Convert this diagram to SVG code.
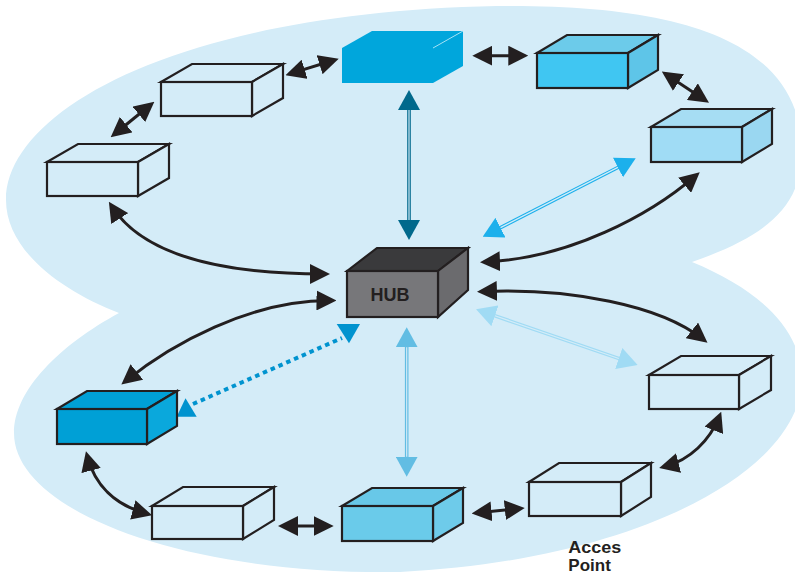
<svg xmlns="http://www.w3.org/2000/svg" width="795" height="575" viewBox="0 0 795 575">
  <style>
    .wf { fill: #d4ecf8; stroke: #231f20; stroke-width: 2.2; stroke-linejoin: miter; }
    .blk { fill: none; stroke: #231f20; stroke-width: 3; }
    .gap { fill: none; stroke: #d4ecf8; stroke-width: 1.2; }
    .lbl { font-family: "Liberation Sans", Arial, sans-serif; font-weight: bold; fill: #231f20; }
  </style>
  <defs>
    <marker id="ah-black" viewBox="0 0 10 10" refX="7" refY="5" markerWidth="20" markerHeight="20" markerUnits="userSpaceOnUse" orient="auto-start-reverse">
      <path d="M0,0 L10,5 L0,10 z" fill="#231f20"/>
    </marker>
    <marker id="ah-teal" viewBox="0 0 10 11" refX="6" refY="5.5" markerWidth="20" markerHeight="22" markerUnits="userSpaceOnUse" orient="auto-start-reverse">
      <path d="M0,0 L10,5.5 L0,11 z" fill="#00698c"/>
    </marker>
    <marker id="ah-blue" viewBox="0 0 10 11" refX="6" refY="5.5" markerWidth="20" markerHeight="22" markerUnits="userSpaceOnUse" orient="auto-start-reverse">
      <path d="M0,0 L10,5.5 L0,11 z" fill="#1cb0ec"/>
    </marker>
    <marker id="ah-pale" viewBox="0 0 10 11" refX="6" refY="5.5" markerWidth="20" markerHeight="22" markerUnits="userSpaceOnUse" orient="auto-start-reverse">
      <path d="M0,0 L10,5.5 L0,11 z" fill="#a0dbf4"/>
    </marker>
    <marker id="ah-mid" viewBox="0 0 10 11" refX="6" refY="5.5" markerWidth="20" markerHeight="22" markerUnits="userSpaceOnUse" orient="auto-start-reverse">
      <path d="M0,0 L10,5.5 L0,11 z" fill="#62bde3"/>
    </marker>
  </defs>

  <rect width="795" height="575" fill="#ffffff"/>

  <!-- network coverage area: two lobes joined at a waist -->
  <path id="area" fill="#d4ecf8" d="M119,313 C60,290 6,250 6,200 C6,110 180,12 497,6 C680,4 800,40 802,150 C802,205 770,235 692,262 C760,290 802,330 802,380 C800,470 640,560 400,572 C180,575 14,510 14,433 C14,390 60,345 119,313 Z"/>

  <!-- connectors -->
  <g id="connectors">
    <!-- ring links -->
    <path class="blk" d="M115.3,133.5 L149.7,105.5" marker-start="url(#ah-black)" marker-end="url(#ah-black)"/>
    <path class="blk" d="M291.2,73.4 L333,60.5" marker-start="url(#ah-black)" marker-end="url(#ah-black)"/>
    <path class="blk" d="M478.3,55.7 L522.3,55.7" marker-start="url(#ah-black)" marker-end="url(#ah-black)"/>
    <path class="blk" d="M666.8,74.8 L704,99.4" marker-start="url(#ah-black)" marker-end="url(#ah-black)"/>
    <path class="blk" d="M284,526 L327.7,526" marker-start="url(#ah-black)" marker-end="url(#ah-black)"/>
    <path class="blk" d="M477.6,512.8 L518.8,508.6" marker-start="url(#ah-black)" marker-end="url(#ah-black)"/>
    <path class="blk" d="M87.5,457 C95,485 115,505 146.3,513.6" marker-start="url(#ah-black)" marker-end="url(#ah-black)"/>
    <path class="blk" d="M665,466.5 C690,460 710,440 719,417.3" marker-start="url(#ah-black)" marker-end="url(#ah-black)"/>

    <!-- hub spokes (curved) -->
    <path class="blk" d="M112.1,206.8 C145,258 230,274 324,274" marker-start="url(#ah-black)" marker-end="url(#ah-black)"/>
    <path class="blk" d="M486,262 C570,258 650,215 695.2,176.1" marker-start="url(#ah-black)" marker-end="url(#ah-black)"/>
    <path class="blk" d="M330.5,300.5 C250,300 170,345 126,380.8" marker-start="url(#ah-black)" marker-end="url(#ah-black)"/>
    <path class="blk" d="M483,291.5 C570,288 660,305 702.8,339.1" marker-start="url(#ah-black)" marker-end="url(#ah-black)"/>

    <!-- hub spokes (double lines) -->
    <path d="M409,98 L409,232" stroke="#00698c" stroke-width="3.6" fill="none" marker-start="url(#ah-teal)" marker-end="url(#ah-teal)"/>
    <path class="gap" d="M409,110 L409,220"/>

    <path d="M489.8,233.1 L628.6,162" stroke="#1cb0ec" stroke-width="3.6" fill="none" marker-start="url(#ah-blue)" marker-end="url(#ah-blue)"/>
    <path class="gap" d="M500.5,227.6 L617.9,167.4"/>

    <path d="M483.6,311.9 L630.1,362.4" stroke="#a0dbf4" stroke-width="3.6" fill="none" marker-start="url(#ah-pale)" marker-end="url(#ah-pale)"/>
    <path class="gap" d="M494.9,315.8 L618.8,358.5"/>

    <path d="M406.7,335.3 L406.7,468.7" stroke="#62bde3" stroke-width="3.6" fill="none" marker-start="url(#ah-mid)" marker-end="url(#ah-mid)"/>
    <path class="gap" d="M406.7,347.3 L406.7,456.7"/>

    <!-- dotted spoke -->
    <path d="M193,404 L342,338" stroke="#0093cf" stroke-width="4" stroke-dasharray="4.5 4" fill="none"/>
    <polygon points="336.7,324 360,324 349,343.3" fill="#0093cf"/>
    <polygon points="176.7,416.7 196.7,416.7 185.5,398.3" fill="#0093cf"/>
  </g>

  <!-- nodes -->
  <g id="node-ring-nw" transform="translate(161,82)">
    <polygon class="wf" points="0,0 31,-18 122,-18 91,0"/>
    <polygon class="wf" points="91,0 122,-18 122,16 91,34"/>
    <rect class="wf" x="0" y="0" width="91" height="34"/>
  </g>
  <g id="node-ring-w" transform="translate(47,162)">
    <polygon class="wf" points="0,0 31,-18 122,-18 91,0"/>
    <polygon class="wf" points="91,0 122,-18 122,16 91,34"/>
    <rect class="wf" x="0" y="0" width="91" height="34"/>
  </g>
  <g id="node-ring-n" transform="translate(342,48)">
    <polygon fill="#00a6dc" points="0,0 30,-17 121,-17 121,18 91,35 0,35"/>
    <line x1="91" y1="0" x2="121" y2="-17" stroke="#a6e2f6" stroke-width="1"/>
  </g>
  <g id="node-ring-ne" transform="translate(537,53)">
    <polygon fill="#6ccbea" stroke="#231f20" stroke-width="2.2" points="0,0 30,-18 121,-18 91,0"/>
    <polygon fill="#5ec5e8" stroke="#231f20" stroke-width="2.2" points="91,0 121,-18 121,17 91,35"/>
    <rect fill="#40c6f2" stroke="#231f20" stroke-width="2.2" x="0" y="0" width="91" height="35"/>
  </g>
  <g id="node-ring-e" transform="translate(651,127)">
    <polygon fill="#a6ddf3" stroke="#231f20" stroke-width="2.2" points="0,0 30,-18 121,-18 91,0"/>
    <polygon fill="#9ad7f1" stroke="#231f20" stroke-width="2.2" points="91,0 121,-18 121,17 91,35"/>
    <rect fill="#a0dcf5" stroke="#231f20" stroke-width="2.2" x="0" y="0" width="91" height="35"/>
  </g>
  <g id="node-hub" transform="translate(347,271)">
    <polygon fill="#3a3a3c" stroke="#231f20" stroke-width="2.2" points="0,0 30,-23 121,-23 91,0"/>
    <polygon fill="#6b6b6e" stroke="#231f20" stroke-width="2.2" points="91,0 121,-23 121,19 91,46"/>
    <rect fill="#77777a" stroke="#231f20" stroke-width="2.2" x="0" y="0" width="91" height="46"/>
    <text class="lbl" x="23.5" y="30" font-size="18">HUB</text>
  </g>
  <g id="node-ring-se" transform="translate(649,375)">
    <polygon class="wf" points="0,0 32,-19 122,-19 90,0"/>
    <polygon class="wf" points="90,0 122,-19 122,15 90,34"/>
    <rect class="wf" x="0" y="0" width="90" height="34"/>
  </g>
  <g id="node-access-point" transform="translate(529,482)">
    <polygon class="wf" points="0,0 30,-19 122,-19 92,0"/>
    <polygon class="wf" points="92,0 122,-19 122,15 92,34"/>
    <rect class="wf" x="0" y="0" width="92" height="34"/>
    <text class="lbl" x="39.3" y="71" font-size="17" textLength="53" lengthAdjust="spacingAndGlyphs">Acces</text>
    <text class="lbl" x="39.3" y="89" font-size="17">Point</text>
  </g>
  <g id="node-ring-s" transform="translate(342,506)">
    <polygon fill="#68c8e8" stroke="#231f20" stroke-width="2.2" points="0,0 30,-18 121,-18 91,0"/>
    <polygon fill="#6ecbea" stroke="#231f20" stroke-width="2.2" points="91,0 121,-18 121,17 91,35"/>
    <rect fill="#6acbea" stroke="#231f20" stroke-width="2.2" x="0" y="0" width="91" height="35"/>
  </g>
  <g id="node-ring-sw" transform="translate(152,506)">
    <polygon class="wf" points="0,0 31,-19 122,-19 91,0"/>
    <polygon class="wf" points="91,0 122,-19 122,14 91,33"/>
    <rect class="wf" x="0" y="0" width="91" height="33"/>
  </g>
  <g id="node-ring-wsw" transform="translate(57,409)">
    <polygon fill="#00a0d6" stroke="#231f20" stroke-width="2.2" points="0,0 30,-18 120,-18 90,0"/>
    <polygon fill="#0aa8dc" stroke="#231f20" stroke-width="2.2" points="90,0 120,-18 120,17 90,35"/>
    <rect fill="#00a0d6" stroke="#231f20" stroke-width="2.2" x="0" y="0" width="90" height="35"/>
  </g>
</svg>
